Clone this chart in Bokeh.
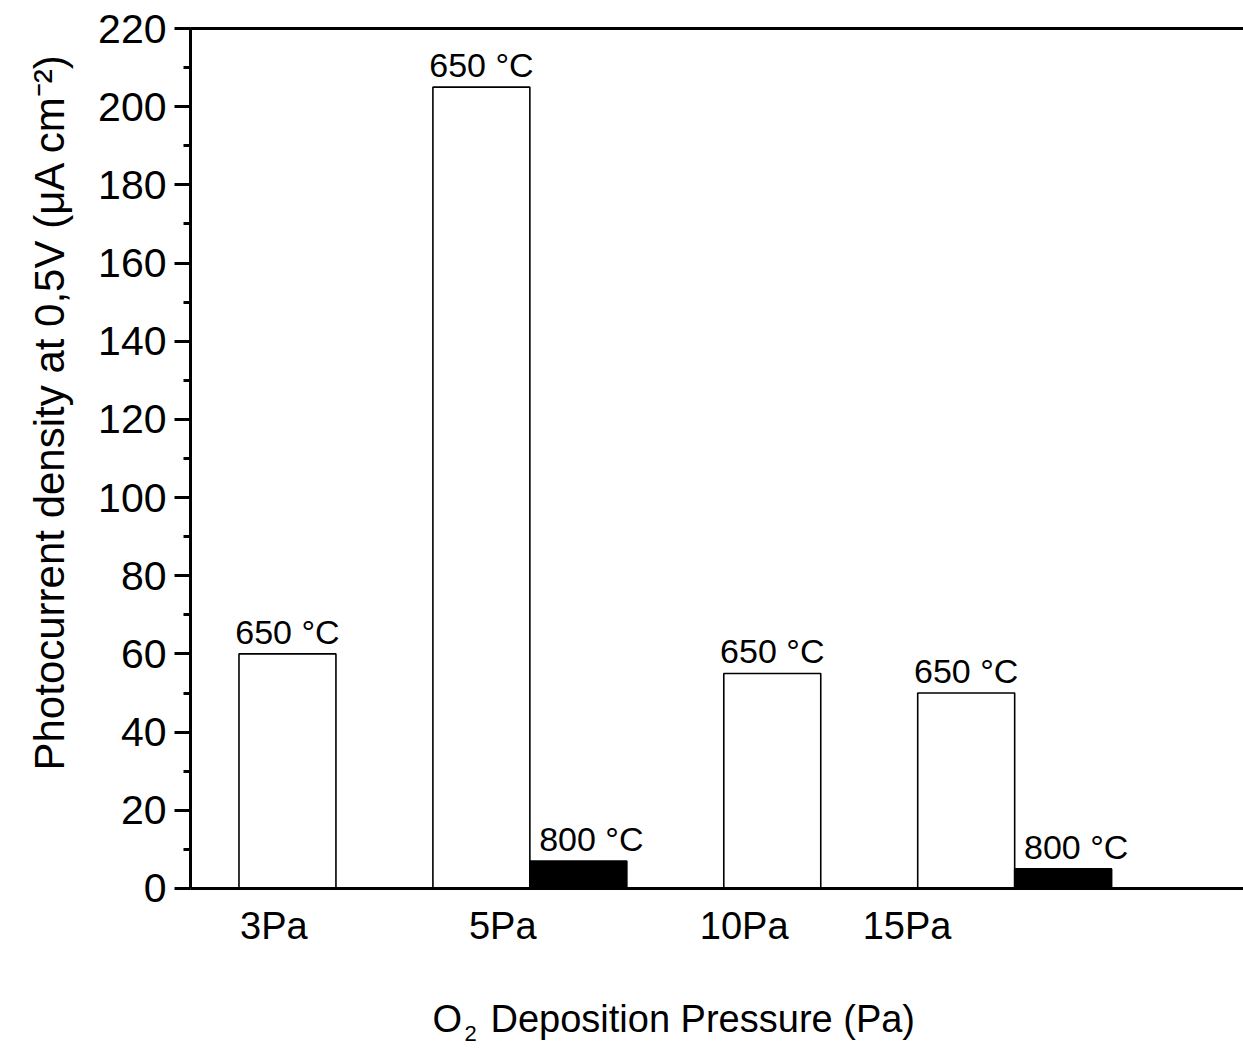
from bokeh.plotting import figure
from bokeh.models import (ColumnDataSource, FixedTicker, Range1d, Title,
                          LinearAxis, Span)
from bokeh.core.properties import value
from bokeh.embed import file_html
from bokeh.resources import INLINE

# Photocurrent density at 0.5 V for each O2 deposition pressure
pressures = ["3Pa", "5Pa", "10Pa", "15Pa"]
current_650 = [60, 205, 55, 50]          # annealed at 650 °C
current_800 = [None, 7, None, 5]         # annealed at 800 °C (only two samples)
label_650 = "650 °C"
label_800 = "800 °C"

# slot layout: each group occupies a white slot followed by a black slot
group_slots = [1, 3, 6, 8]
tick_positions = [0.86, 3.22, 5.71, 7.39]

FONT = "Liberation Sans"

# the frame reaches the bottom of the page so that the category labels and
# the x title (with a true subscript) can be set as text glyphs below y = 0
p = figure(width=1243, height=1049, output_backend="svg", toolbar_location=None,
           x_range=Range1d(0, 10.86), y_range=Range1d(-41.2, 220),
           x_axis_location=None,
           min_border_left=190, min_border_right=0, min_border_top=28,
           min_border_bottom=0)
p.outline_line_color = None
p.grid.grid_line_color = None
p.background_fill_color = "white"
p.border_fill_color = "white"

ya = p.left[0]

x650 = list(group_slots)
x800 = [s + 1 for s, v in zip(group_slots, current_800) if v is not None]
v800 = [v for v in current_800 if v is not None]

src650 = ColumnDataSource(dict(x=x650, top=current_650, lab=[label_650] * len(x650)))
src800 = ColumnDataSource(dict(x=x800, top=v800, lab=[label_800] * len(x800)))

p.vbar(x="x", top="top", width=1, bottom=0, source=src650,
       fill_color="white", line_color="black", line_width=1.6)
p.vbar(x="x", top="top", width=1, bottom=0, source=src800,
       fill_color="black", line_color="black", line_width=1.6)

p.text(x="x", y="top", text="lab", source=src650, text_align="center",
       text_baseline="bottom", y_offset=-3, text_font_size="34px",
       text_font=value(FONT), text_color="black")
p.text(x="x", y="top", text="lab", source=src800, text_align="center",
       text_baseline="bottom", x_offset=13, y_offset=-3, text_font_size="34px",
       text_font=value(FONT), text_color="black")

# baseline (x axis line) at y = 0
p.add_layout(Span(location=0, dimension="width", line_color="black", line_width=3))

# category labels under the baseline
p.text(x=tick_positions, y=[0] * len(tick_positions), text=pressures,
       text_align="center", text_baseline="alphabetic", y_offset=38,
       text_font_size="38px", text_font=value(FONT), text_color="black")

# x title: O, subscript 2, rest of the text
p.text(x=[0], y=[0], text=["O"], text_align="left", text_baseline="alphabetic",
       x_offset=242, y_offset=131, text_font_size="38px",
       text_font=value(FONT), text_color="black")
p.text(x=[0], y=[0], text=["2"], text_align="left", text_baseline="alphabetic",
       x_offset=274, y_offset=145, text_font_size="22px",
       text_font=value(FONT), text_color="black")
p.text(x=[0], y=[0], text=["Deposition Pressure (Pa)"], text_align="left",
       text_baseline="alphabetic", x_offset=300, y_offset=131,
       text_font_size="38px", text_font=value(FONT), text_color="black")

# frame top line: a bare axis on the upper edge
top = LinearAxis(axis_line_width=3, major_tick_line_color=None,
                 minor_tick_line_color=None, major_tick_out=0, major_tick_in=0,
                 minor_tick_out=0, minor_tick_in=0,
                 major_label_text_font_size="0px", major_label_standoff=0,
                 ticker=FixedTicker(ticks=[], minor_ticks=[]))
p.add_layout(top, "above")

# y axis
ya.bounds = (0, 220)
ya.ticker = FixedTicker(ticks=list(range(0, 221, 20)), minor_ticks=list(range(0, 221, 10)))
ya.axis_line_width = 3
ya.major_tick_line_width = 3
ya.minor_tick_line_width = 3
ya.major_tick_out = 16
ya.major_tick_in = 0
ya.minor_tick_out = 7
ya.minor_tick_in = 0
ya.major_label_text_font = FONT
ya.major_label_text_font_size = "41px"
ya.major_label_text_color = "black"
ya.major_label_standoff = 8

# y title
p.add_layout(Title(text="Photocurrent density at 0,5V (μA cm⁻²)", align="left",
                   offset=279, standoff=46, text_font=FONT, text_font_size="42px",
                   text_font_style="normal", text_color="black"), "left")

open("out.html", "w").write(file_html(p, INLINE))
